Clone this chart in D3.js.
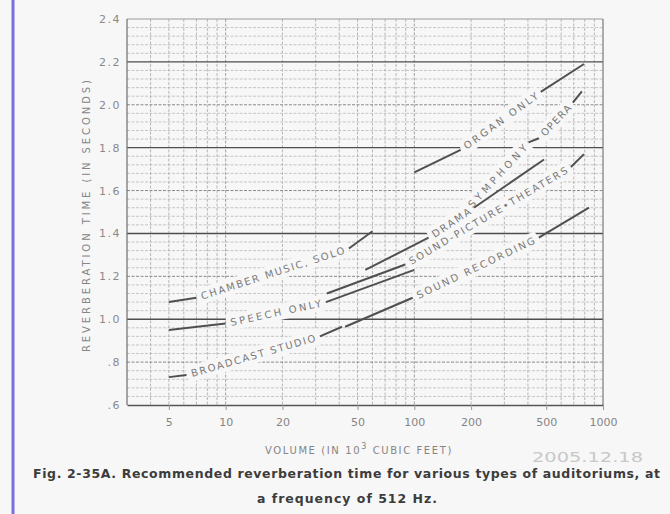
<!DOCTYPE html>
<html>
<head>
<meta charset="utf-8">
<script src="https://cdn.jsdelivr.net/npm/d3@7"></script>
<style>
  body { margin: 0; background: #f7f7f7; }
  svg { display: block; }
</style>
</head>
<body>
<div id="chart"></div>
<script>
// volume axis (thousands of cubic feet), log scale
var volumeTicks = [5, 10, 20, 50, 100, 200, 500, 1000];
// reverberation time axis (seconds)
var timeTicks = [0.6, 0.8, 1.0, 1.2, 1.4, 1.6, 1.8, 2.0, 2.2, 2.4];
var timeTickLabels = [".6", ".8", "1.0", "1.2", "1.4", "1.6", "1.8", "2.0", "2.2", "2.4"];

// each curve is a list of runs [[volume, time], ...]; the gaps between runs hold the labels
var chamberMusic = [[[5, 1.08], [7, 1.10]], [[45, 1.33], [60, 1.41]]];
var speechOnly = [[[5, 0.95], [10, 0.98]], [[34, 1.08], [100, 1.23]]];
var broadcastStudio = [[[5, 0.73], [6.2, 0.74]], [[31.6, 0.92], [41.4, 0.965]]];
var soundRecording = [[[43, 0.965], [98, 1.10]], [[457, 1.38], [843, 1.52]]];
var soundPicture = [[[34.4, 1.12], [89.5, 1.255]], [[676, 1.71], [793, 1.77]]];
var drama = [[[55, 1.23], [119, 1.38]], [[207, 1.52], [487, 1.745]]];
var symphonyOpera = [[[189, 1.51]], [[403, 1.825], [457, 1.844]], [[692, 2.01], [773, 2.063]]];
var organOnly = [[[100, 1.685], [176, 1.79]], [[468, 2.06], [793, 2.19]]];

var curves = [chamberMusic, speechOnly, broadcastStudio, soundRecording,
              soundPicture, drama, symphonyOpera, organOnly];
var curveLabels = [["CHAMBER MUSIC, SOLO"], ["SPEECH ONLY"], ["BROADCAST STUDIO"], ["SOUND RECORDING"],
                   ["SOUND-PICTURE\u2022THEATERS"], ["DRAMA"], ["SYMPHONY", "OPERA"], ["ORGAN ONLY"]];

var width = 670, height = 514;
var bg = "#f7f7f7";
var plot = { left: 127, right: 603, top: 19, bottom: 405 };

var svg = d3.select("#chart").append("svg")
  .attr("width", width)
  .attr("height", height)
  .style("background", bg);

// the blue edge at the left of the photo
svg.append("line")
  .attr("x1", 13).attr("x2", 13).attr("y1", 0).attr("y2", height)
  .style("stroke", "#7b70dc").style("stroke-width", 3);

var x = d3.scaleLog().domain([3, 1000]).range([plot.left, plot.right]);
var y = d3.scaleLinear().domain([0.6, 2.4]).range([plot.bottom, plot.top]);

// grid
var grid = svg.append("g");
var vLines = x.ticks().filter(function (d) { return d > 3 && d < 1000; });
grid.selectAll(".vgrid").data(vLines).enter().append("line")
  .attr("x1", function (d) { return x(d); }).attr("x2", function (d) { return x(d); })
  .attr("y1", plot.top).attr("y2", plot.bottom)
  .style("stroke", function (d) { return (d === 10 || d === 100) ? "#8c8c8c" : "#a8a8a8"; })
  .style("stroke-width", 0.8)
  .style("stroke-dasharray", "3,1.5");

var hLines = d3.range(16, 60);   // every 0.04 s
grid.selectAll(".hgrid").data(hLines).enter().append("line")
  .attr("x1", plot.left).attr("x2", plot.right)
  .attr("y1", function (i) { return y(i * 0.04); }).attr("y2", function (i) { return y(i * 0.04); })
  .style("stroke", function (i) {
    if ((i - 25) % 10 === 0) return "#4e4e4e";
    if (i % 5 === 0) return "#8a8a8a";
    return "#b0b0b0";
  })
  .style("stroke-width", function (i) { return (i - 25) % 10 === 0 ? 1.4 : (i % 5 === 0 ? 1 : 0.7); })
  .style("stroke-dasharray", function (i) { return (i - 25) % 10 === 0 ? null : "3,1.5"; });

// frame
svg.append("line").attr("x1", plot.left).attr("x2", plot.right).attr("y1", plot.top).attr("y2", plot.top)
  .style("stroke", "#9a9a9a").style("stroke-width", 1);
svg.append("line").attr("x1", plot.left).attr("x2", plot.left).attr("y1", plot.top).attr("y2", plot.bottom)
  .style("stroke", "#6e6e6e").style("stroke-width", 1.2);
svg.append("line").attr("x1", plot.right).attr("x2", plot.right).attr("y1", plot.top).attr("y2", plot.bottom)
  .style("stroke", "#7a7a7a").style("stroke-width", 1.2);

// axes
var xAxis = d3.axisBottom(x)
  .tickValues(volumeTicks)
  .tickFormat(function (d) { return String(d); })
  .tickSizeInner(5).tickSizeOuter(0).tickPadding(8);
var gx = svg.append("g")
  .attr("transform", "translate(0," + plot.bottom + ")")
  .call(xAxis);
gx.select(".domain").style("stroke", "#555").style("stroke-width", 1.6);
gx.selectAll(".tick line").style("stroke", "#999");
gx.selectAll("text")
  .style("font-family", "'DejaVu Sans', sans-serif")
  .style("font-size", "11px")
  .style("fill", "#858585");

var yAxis = d3.axisLeft(y)
  .tickValues(timeTicks)
  .tickFormat(function (d, i) { return timeTickLabels[i]; })
  .tickSize(0).tickPadding(6);
var gy = svg.append("g")
  .attr("transform", "translate(" + plot.left + ",0)")
  .call(yAxis);
gy.select(".domain").remove();
gy.selectAll("text")
  .style("font-family", "'DejaVu Sans', sans-serif")
  .style("font-size", "11px")
  .style("letter-spacing", "1.5px")
  .style("fill", "#8a8a8a");

// curve labels sit in the gaps between runs, on a blank band
var labelLayer = svg.append("g");
var lineLayer = svg.append("g");
var textLayer = svg.append("g");

var line = d3.line()
  .x(function (d) { return x(d[0]); })
  .y(function (d) { return y(d[1]); });

curves.forEach(function (runs, c) {
  var texts = curveLabels[c];
  texts.forEach(function (t, i) {
    var a = runs[i][runs[i].length - 1];
    var b = runs[i + 1][0];
    var ax = x(a[0]), ay = y(a[1]), bx = x(b[0]), by = y(b[1]);
    var len = Math.sqrt((bx - ax) * (bx - ax) + (by - ay) * (by - ay));
    var ang = Math.atan2(by - ay, bx - ax) * 180 / Math.PI;
    var tr = "translate(" + ((ax + bx) / 2) + "," + ((ay + by) / 2) + ") rotate(" + ang + ")";
    labelLayer.append("rect")
      .attr("transform", tr)
      .attr("x", -len / 2 + 1).attr("y", -8)
      .attr("width", len - 2).attr("height", 16)
      .style("fill", bg);
    textLayer.append("text")
      .attr("transform", tr)
      .attr("text-anchor", "middle")
      .attr("dy", "0.36em")
      .attr("textLength", len - 10)
      .attr("lengthAdjust", "spacing")
      .style("font-family", "'DejaVu Sans', sans-serif")
      .style("font-size", "10px")
      .style("fill", "#7a7a7a")
      .text(t);
  });
  lineLayer.selectAll(null)
    .data(runs.filter(function (r) { return r.length > 1; }))
    .enter().append("path")
    .attr("d", line)
    .style("fill", "none")
    .style("stroke", "#505050")
    .style("stroke-width", 2);
});

// axis titles
svg.append("text")
  .attr("transform", "translate(90,216) rotate(-90)")
  .attr("text-anchor", "middle")
  .attr("textLength", 272)
  .attr("lengthAdjust", "spacing")
  .style("font-family", "'DejaVu Sans', sans-serif")
  .style("font-size", "10px")
  .style("fill", "#858585")
  .text("REVERBERATION TIME (IN SECONDS)");

var xt = svg.append("text")
  .attr("x", 359).attr("y", 454)
  .attr("text-anchor", "middle")
  .style("font-family", "'DejaVu Sans', sans-serif")
  .style("font-size", "10px")
  .style("letter-spacing", "1.6px")
  .style("fill", "#858585");
xt.append("tspan").text("VOLUME (IN 10");
xt.append("tspan").attr("dy", -5).style("font-size", "8px").text("3");
xt.append("tspan").attr("dy", 5).text(" CUBIC FEET)");

// camera date stamp in the photo
svg.append("text")
  .attr("x", 532).attr("y", 462)
  .attr("textLength", 111)
  .attr("lengthAdjust", "spacingAndGlyphs")
  .style("font-family", "'DejaVu Sans', sans-serif")
  .style("font-size", "14px")
  .style("fill", "#c8c8c8")
  .text("2005.12.18");

// caption
svg.append("text")
  .attr("x", 33).attr("y", 478)
  .attr("textLength", 627)
  .attr("lengthAdjust", "spacing")
  .style("font-family", "'DejaVu Sans', sans-serif")
  .style("font-weight", "bold")
  .style("font-size", "12.5px")
  .style("fill", "#3c3c3c")
  .text("Fig. 2-35A. Recommended reverberation time for various types of auditoriums, at");

svg.append("text")
  .attr("x", 257).attr("y", 503)
  .attr("textLength", 180)
  .attr("lengthAdjust", "spacing")
  .style("font-family", "'DejaVu Sans', sans-serif")
  .style("font-weight", "bold")
  .style("font-size", "12.5px")
  .style("fill", "#3c3c3c")
  .text("a frequency of 512 Hz.");
</script>
</body>
</html>
